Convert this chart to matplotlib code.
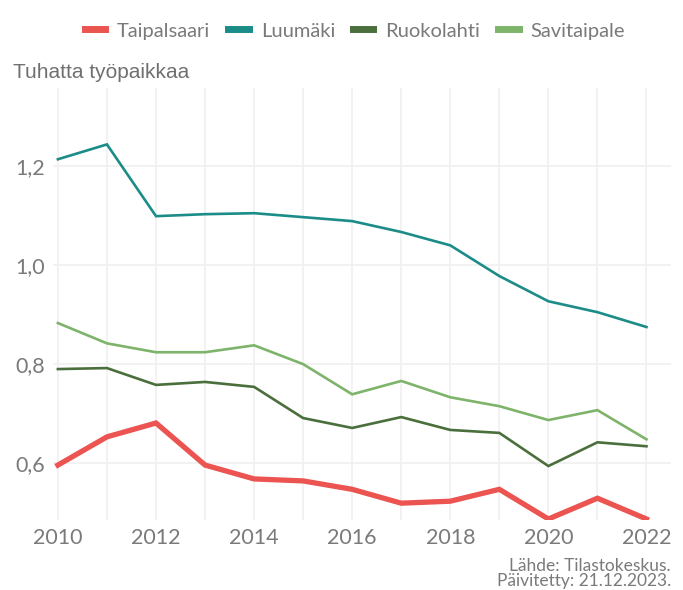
import matplotlib
matplotlib.use("Agg")
import matplotlib.pyplot as plt
from matplotlib.lines import Line2D

years = [2010, 2011, 2012, 2013, 2014, 2015, 2016, 2017, 2018, 2019, 2020, 2021, 2022]
taipalsaari = [0.596, 0.653, 0.681, 0.596, 0.568, 0.564, 0.547, 0.519, 0.523, 0.547, 0.487, 0.529, 0.487]
luumaki = [1.214, 1.244, 1.099, 1.103, 1.105, 1.097, 1.089, 1.067, 1.040, 0.978, 0.927, 0.905, 0.875]
ruokolahti = [0.790, 0.792, 0.758, 0.764, 0.754, 0.691, 0.671, 0.693, 0.667, 0.661, 0.594, 0.642, 0.634]
savitaipale = [0.883, 0.842, 0.824, 0.824, 0.838, 0.800, 0.739, 0.766, 0.733, 0.715, 0.687, 0.707, 0.648]
names = ["Taipalsaari", "Luumäki", "Ruokolahti", "Savitaipale"]
colors = ["#eb5450", "#1b8c87", "#4b6f3c", "#7db46a"]
yticks = [0.6, 0.8, 1.0, 1.2]
ytick_labels = ["0,6", "0,8", "1,0", "1,2"]
xticks = [2010, 2012, 2014, 2016, 2018, 2020, 2022]

FONT = ["Lato", "DejaVu Sans"]
GREY = "#7a7a7a"

W, H = 683, 590
fig = plt.figure(figsize=(W / 100, H / 100), dpi=100)
ax = fig.add_axes([53 / W, 1 - 520 / H, (671 - 53) / W, (520 - 88) / H])

series = [taipalsaari, luumaki, ruokolahti, savitaipale]
widths = [3.8, 1.9, 1.9, 1.9]
order = [1, 3, 2, 0]
for i in order:
    ax.plot(years, series[i], color=colors[i], lw=widths[i], label=names[i],
            solid_joinstyle="miter", zorder=3 + (i == 0))

ax.set_xlim(2009.9, 2022.5)
ax.set_ylim(0.485, 1.358)
ax.set_xticks(years)
ax.set_xticklabels([str(y) if y in xticks else "" for y in years], family=FONT)
ax.set_yticks(yticks)
ax.set_yticklabels(ytick_labels, family=FONT)
ax.grid(True, color="#f0f0f0", lw=1.2)
for s in ax.spines.values():
    s.set_visible(False)
ax.tick_params(length=0, labelsize=15.5, labelcolor=GREY)
ax.tick_params(axis="y", pad=6)
ax.tick_params(axis="x", pad=6)

fig.text(13 / W, 1 - 72 / H, "Tuhatta työpaikkaa", fontsize=15, color="#707070",
         family=["Liberation Sans", "DejaVu Sans"], va="center", ha="left")

handles = [Line2D([0], [0], color=colors[i], lw=5) for i in range(4)]
leg = fig.legend(handles, names, loc="center", bbox_to_anchor=(355 / W, 1 - 31 / H), ncol=4,
                 frameon=False, handlelength=1.0, handletextpad=0.6, columnspacing=0.9,
                 prop={"family": FONT, "size": 14.5})
for t in leg.get_texts():
    t.set_color(GREY)

fig.text(671 / W, 1 - 566 / H, "Lähde: Tilastokeskus.", fontsize=12.5, color=GREY,
         family=FONT, ha="right", va="center")
fig.text(671 / W, 1 - 581 / H, "Päivitetty: 21.12.2023.", fontsize=12.5, color=GREY,
         family=FONT, ha="right", va="center")

fig.savefig("out.png", dpi=100)
